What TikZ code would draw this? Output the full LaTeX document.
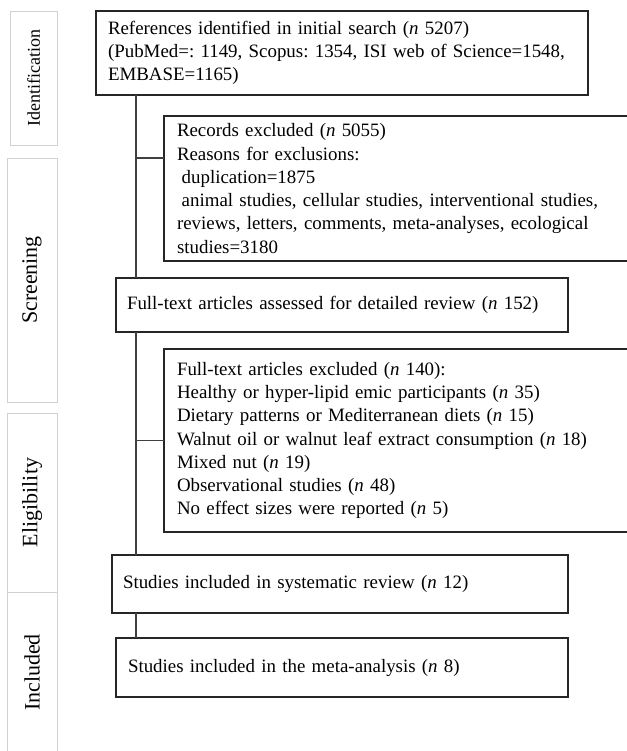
\documentclass[tikz,border=0pt]{standalone}
\usepackage{fontspec}
\setmainfont{Liberation Serif}
\frenchspacing
\begin{document}
\begin{tikzpicture}[x=0.5pt,y=-0.5pt,
  box/.style={draw=black!85,line width=0.7pt,anchor=north west,align=left,inner ysep=0pt,outer sep=0pt,font=\fontsize{9.45}{11.65}\selectfont},
  phase/.style={draw=black!18,line width=0.5pt,rotate=90,inner sep=0pt,outer sep=0pt,font=\fontsize{11}{12}\selectfont},
  link/.style={draw=black!75,line width=0.65pt}]
    \useasboundingbox(0,0)rectangle(627,751);
    \clip(0,0)rectangle(627,751);
    % phases on the left
    \node[phase,minimum width=67pt,minimum height=23.5pt,font=\fontsize{9}{10}\selectfont](idf)at(33.5,78){Identification};
    \node[phase,minimum width=122pt,minimum height=25pt](scr)at(32,280){Screening};
    \node[phase,minimum width=89.5pt,minimum height=25pt](elig)at(32,502.5){Eligibility};
    \node[phase,minimum width=80.5pt,minimum height=25pt](incl)at(32,672.5){Included};
    % flow boxes
    \node[box,minimum width=246pt,minimum height=42pt,inner xsep=6pt,text width=234pt](refs)at(96,11)
      {References identified in initial search (\textit{n} 5207)\\(PubMed=: 1149, Scopus: 1354, ISI web of Science=1548,\\EMBASE=1165)};
    \node[box,minimum width=238pt,minimum height=72.5pt,inner xsep=6.5pt,text width=225pt](recex)at(164,116)
      {Records excluded (\textit{n} 5055)\\Reasons for exclusions:\\\hspace*{.25em}duplication=1875\\\hspace*{.25em}animal studies, cellular studies, interventional studies,\\reviews, letters, comments, meta-analyses, ecological\\studies=3180};
    \node[box,minimum width=226pt,minimum height=27pt,inner xsep=5.5pt,text width=215pt](assess)at(116,278)
      {Full-text articles assessed for detailed review (\textit{n} 152)};
    \node[box,minimum width=238pt,minimum height=91.5pt,inner xsep=6.5pt,text width=225pt](ftex)at(164,349)
      {Full-text articles excluded (\textit{n} 140):\\Healthy or hyper-lipid emic participants (\textit{n} 35)\\Dietary patterns or Mediterranean diets (\textit{n} 15)\\Walnut oil or walnut leaf extract consumption (\textit{n} 18)\\Mixed nut (\textit{n} 19)\\Observational studies (\textit{n} 48)\\No effect sizes were reported (\textit{n} 5)};
    \node[box,minimum width=228pt,minimum height=29pt,inner xsep=5.5pt,text width=217pt](sysrev)at(112,555)
      {Studies included in systematic review (\textit{n} 12)};
    \node[box,minimum width=226pt,minimum height=29.5pt,inner xsep=6pt,text width=214pt](meta)at(116,638)
      {Studies included in the meta-analysis (\textit{n} 8)};
    % trunk and branches
    \coordinate(tx)at(136,0);
    \coordinate(brA)at([yshift=-21pt]recex.north west);
    \draw[link](refs.south-|tx)--(assess.north-|tx);
    \draw[link](assess.south-|tx)--(sysrev.north-|tx);
    \draw[link](sysrev.south-|tx)--(meta.north-|tx);
    \draw[link](brA-|tx)--(brA);
    \draw[link](ftex.west-|tx)--(ftex.west);
\end{tikzpicture}
\end{document}
